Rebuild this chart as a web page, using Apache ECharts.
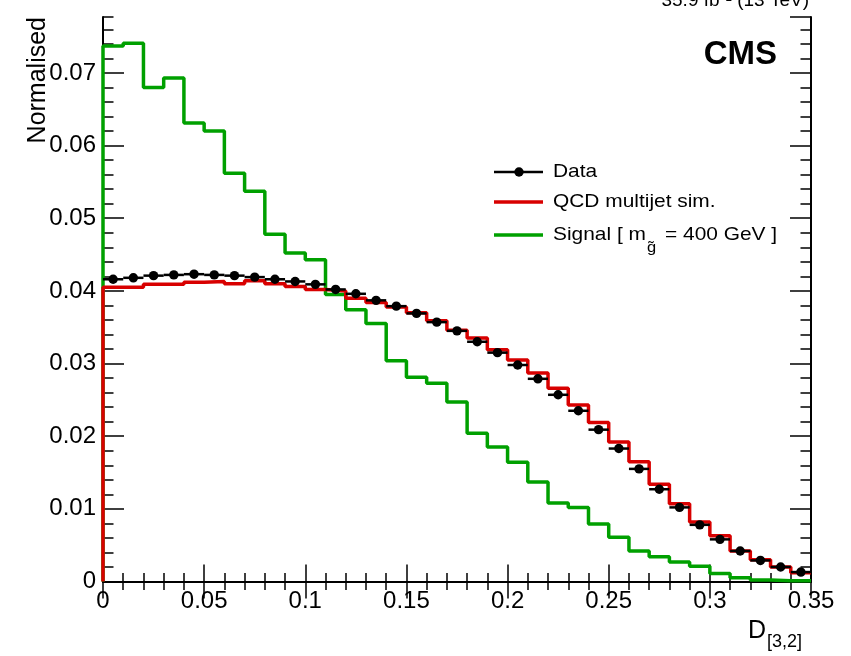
<!DOCTYPE html>
<html>
<head>
<meta charset="utf-8">
<script src="https://cdn.jsdelivr.net/npm/echarts@6/dist/echarts.min.js"></script>
<style>
html,body{margin:0;padding:0;background:#fff;}
#chart{width:851px;height:656px;}
</style>
</head>
<body>
<div id="chart"></div>
<script>
// Bin edges of D[3,2]
const binEdges = [0,0.01,0.02,0.03,0.04,0.05,0.06,0.07,0.08,0.09,0.10,0.11,0.12,0.13,0.14,0.15,0.16,0.17,0.18,0.19,0.20,0.21,0.22,0.23,0.24,0.25,0.26,0.27,0.28,0.29,0.30,0.31,0.32,0.33,0.34,0.35];
// Data (points)
const dataValues = [0.0416,0.0418,0.0421,0.0422,0.0423,0.0422,0.0421,0.0419,0.0416,0.0413,0.0409,0.0402,0.0396,0.0387,0.0379,0.0369,0.0357,0.0345,0.0330,0.0315,0.0298,0.0279,0.0257,0.0235,0.0209,0.0183,0.0155,0.0127,0.0102,0.0078,0.0058,0.0042,0.0029,0.0020,0.0013];
// QCD multijet simulation
const qcdValues = [0.0405,0.0405,0.0409,0.0409,0.0412,0.0413,0.0410,0.0414,0.0410,0.0406,0.0402,0.0400,0.0390,0.0384,0.0378,0.0370,0.0359,0.0346,0.0335,0.0319,0.0305,0.0287,0.0266,0.0243,0.0219,0.0192,0.0165,0.0134,0.0107,0.0082,0.0063,0.0042,0.0030,0.0020,0.0012];
// Signal m_gluino = 400 GeV
const signalValues = [0.0737,0.0741,0.0680,0.0693,0.0631,0.0620,0.0562,0.0537,0.0478,0.0452,0.0443,0.0395,0.0374,0.0355,0.0304,0.0281,0.0273,0.0247,0.0204,0.0185,0.0164,0.0137,0.0108,0.0102,0.0079,0.0061,0.0042,0.0034,0.0027,0.0021,0.0011,0.0005,0.0002,0.0001,0.0001];
const xMin = 0, xMax = 0.35, xInterval = 0.05;
const yMin = 0, yMax = 0.0777, yInterval = 0.01, yMinorInterval = 0.002;

function histPoints(vals){
  const pts = [[binEdges[0], 0]];
  for (let i = 0; i < vals.length; i++) pts.push([binEdges[i], vals[i]]);
  pts.push([binEdges[vals.length], vals[vals.length-1]]);
  return pts;
}
const dataItems = dataValues.map((v,i)=>[binEdges[i], binEdges[i+1], (binEdges[i]+binEdges[i+1])/2, v]);

const FONT = '"Liberation Sans", Arial, Helvetica, sans-serif';
const fmt = v => String(parseFloat(v.toFixed(4)));
const RED = '#d80000', GREEN = '#00a000';

const chart = echarts.init(document.getElementById('chart'), null, {renderer:'canvas'});
const tickStyle = {color:'#000', width:1.5};
const lineAx = {show:true, lineStyle:{color:'#000', width:2}};
function xAx(pos, labels){
  return {type:'value', min:xMin, max:xMax, interval:xInterval, position:pos,
    axisLine:lineAx, splitLine:{show:false},
    axisTick:{show:true, inside:true, length:17, lineStyle:tickStyle},
    minorTick:{show:true, splitNumber:5, length:8.5, lineStyle:tickStyle},
    axisLabel:{show:labels, fontSize:24, color:'#000', fontFamily:FONT, margin:8, formatter:fmt}};
}
function yAx(pos, labels, interval, len, showLine){
  return {type:'value', min:yMin, max:yMax, interval:interval, position:pos,
    axisLine:{show:showLine, lineStyle:{color:'#000', width:2}}, splitLine:{show:false},
    axisTick:{show:true, inside:true, length:len, lineStyle:tickStyle},
    axisLabel:{show:labels, fontSize:24, color:'#000', fontFamily:FONT, margin:7, formatter:fmt, showMaxLabel:false}};
}
const SX = 1.1;

chart.setOption({
  animation:false,
  backgroundColor:'#fff',
  grid:{left:103, right:40, top:17, bottom:74.5, containLabel:false},
  xAxis:[xAx('bottom', true), xAx('top', false)],
  yAxis:[yAx('left', true, yInterval, 21, true), yAx('left', false, yMinorInterval, 10.5, false),
         yAx('right', false, yInterval, 21, true), yAx('right', false, yMinorInterval, 10.5, false)],
  series:[
    {name:'Signal', type:'line', step:'end', data:histPoints(signalValues), symbol:'none',
     lineStyle:{color:GREEN, width:3.5}, z:2, xAxisIndex:0, yAxisIndex:0},
    {name:'QCD multijet sim.', type:'line', step:'end', data:histPoints(qcdValues), symbol:'none',
     lineStyle:{color:RED, width:3.5}, z:3, xAxisIndex:0, yAxisIndex:0},
    {name:'Data', type:'custom', data:dataItems, z:4, xAxisIndex:0, yAxisIndex:0,
     encode:{x:[0,1,2], y:3},
     renderItem:function(params, api){
       const a = api.coord([api.value(0), api.value(3)]);
       const b = api.coord([api.value(1), api.value(3)]);
       const c = api.coord([api.value(2), api.value(3)]);
       return {type:'group', children:[
         {type:'line', shape:{x1:a[0], y1:a[1], x2:b[0], y2:b[1]}, style:{stroke:'#000', lineWidth:2.5}},
         {type:'circle', shape:{cx:c[0], cy:c[1], r:4.7}, style:{fill:'#000'}}
       ]};
     }}
  ],
  graphic:[
    {type:'text', x:809, y:10, style:{text:'35.9 fb\u207B\u00B9 (13 TeV)', font:'19px '+FONT, fill:'#000', textAlign:'right', textVerticalAlign:'bottom'}},
    {type:'text', x:777, y:55, style:{text:'CMS', font:'bold 33px '+FONT, fill:'#000', textAlign:'right', textVerticalAlign:'middle'}},
    {type:'text', x:38, y:17, rotation:Math.PI/2, style:{text:'Normalised', font:'25px '+FONT, fill:'#000', textAlign:'right', textVerticalAlign:'middle'}},
    {type:'text', x:748, y:631, style:{text:'D', font:'25px '+FONT, fill:'#000', textAlign:'left', textVerticalAlign:'middle'}},
    {type:'text', x:767, y:642, style:{text:'[3,2]', font:'18px '+FONT, fill:'#000', textAlign:'left', textVerticalAlign:'middle'}},
    // legend
    {type:'line', shape:{x1:494, y1:172, x2:543, y2:172}, style:{stroke:'#000', lineWidth:2.5}},
    {type:'circle', shape:{cx:519, cy:172, r:4.7}, style:{fill:'#000'}},
    {type:'text', x:553, y:172, scaleX:SX, style:{text:'Data', font:'19px '+FONT, fill:'#000', textVerticalAlign:'middle'}},
    {type:'line', shape:{x1:494, y1:202, x2:543, y2:202}, style:{stroke:RED, lineWidth:3.5}},
    {type:'text', x:553, y:202, scaleX:SX, style:{text:'QCD multijet sim.', font:'19px '+FONT, fill:'#000', textVerticalAlign:'middle'}},
    {type:'line', shape:{x1:494, y1:235, x2:543, y2:235}, style:{stroke:GREEN, lineWidth:3.5}},
    {type:'text', x:553, y:235, scaleX:SX, style:{text:'Signal [ m', font:'19px '+FONT, fill:'#000', textVerticalAlign:'middle'}},
    {type:'text', x:647, y:248, scaleX:SX, style:{text:'g\u0303', font:'15px '+FONT, fill:'#000', textVerticalAlign:'middle'}},
    {type:'text', x:665, y:235, scaleX:SX, style:{text:'= 400 GeV ]', font:'19px '+FONT, fill:'#000', textVerticalAlign:'middle'}}
  ]
});
</script>
</body>
</html>
